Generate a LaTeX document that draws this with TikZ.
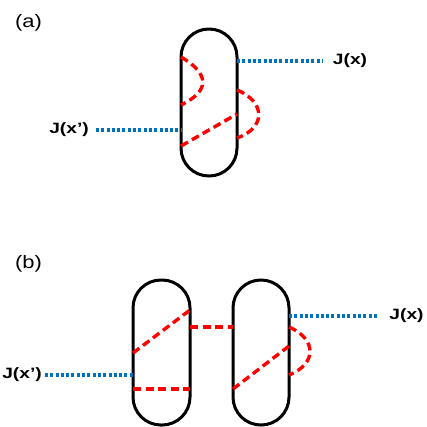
\documentclass[tikz,border=0pt]{standalone}
\usepackage{fontspec}
\newfontfamily\jfont[FakeStretch=1.28]{Liberation Sans}
\newfontfamily\pfont[FakeStretch=1.22]{Liberation Sans}
\usetikzlibrary{calc}
\definecolor{jblue}{RGB}{0,112,192}
\begin{document}
\begin{tikzpicture}[x=1pt,y=-1pt,
 capsule/.style={draw=black, line width=3pt, rounded corners=27.9pt, inner sep=0pt, outer sep=0pt},
 jdot/.style={draw=jblue, line width=3.2pt, dash pattern=on 3pt off 2.3pt},
 rdash/.style={draw=red, line width=3.4pt, dash pattern=on 8pt off 4.5pt},
 jlabel/.style={font=\jfont\bfseries\fontsize{15}{17}\selectfont, inner sep=0pt},
 plabel/.style={font=\pfont\fontsize{18}{20}\selectfont, inner sep=0pt}]
\useasboundingbox (0,0) rectangle (427,426);
% panel (a)
\node[plabel] (pa) at (28.5,23) {(a)};
\node[capsule, minimum width=56pt, minimum height=147pt] (ca) at (209,102.5) {};
\node[jlabel] (jxa) at (350,61) {J(x)};
\node[jlabel] (jxpa) at (69,130) {J(x’)};
\draw[jdot] (ca.east |- jxa) -- ([xshift=-10pt]jxa.west);
\draw[jdot] ([xshift=7pt]jxpa.east) -- (ca.west |- jxpa);
\draw[rdash] (181,57) .. controls (210,74) and (210,91) .. (181,105);
\draw[rdash] (181,146) -- (237,114);
\draw[rdash] (237,90) .. controls (266,102) and (266,128) .. (237,138);
% panel (b)
\node[plabel] (pb) at (28.5,264) {(b)};
\node[capsule, minimum width=57pt, minimum height=145pt] (cl) at (161.5,352.5) {};
\node[capsule, minimum width=56pt, minimum height=145pt] (cr) at (261,352.5) {};
\node[jlabel] (jxb) at (406.5,316) {J(x)};
\node[jlabel] (jxpb) at (22,375) {J(x’)};
\draw[jdot] (cr.east |- jxb) -- ([xshift=-12pt]jxb.west);
\draw[jdot] ([xshift=3pt]jxpb.east) -- (cl.west |- jxpb);
\draw[rdash] (133,353) -- (190,310);
\draw[rdash] (133,389) -- (190,389);
\draw[rdash] (cl.east |- 0,327) -- (cr.west |- 0,327);
\draw[rdash] (233,389) -- (289,346);
\draw[rdash] (289,327) .. controls (317,339) and (317,364) .. (289,375);
\end{tikzpicture}
\end{document}
